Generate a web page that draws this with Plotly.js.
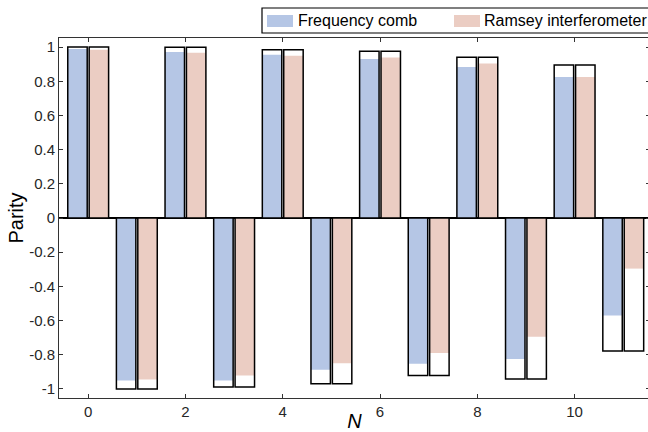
<!DOCTYPE html>
<html>
<head>
<meta charset="utf-8">
<script src="https://cdn.plot.ly/plotly-3.0.1.min.js"></script>
<style>
html, body { margin: 0; padding: 0; overflow: hidden; background: #fff; }
#chart { width: 720px; height: 432px; }
</style>
</head>
<body>
<div id="chart"></div>
<script>
// N values
var N = [0, 1, 2, 3, 4, 5, 6, 7, 8, 9, 10, 11];
// Ideal (expected) parity shown as black outlined boxes
var ideal = [1.0, -1.0, 0.999, -0.988, 0.984, -0.969, 0.975, -0.922, 0.941, -0.942, 0.895, -0.778];
// Measured parity, frequency comb
var comb = [0.988, -0.951, 0.971, -0.951, 0.955, -0.888, 0.930, -0.852, 0.884, -0.825, 0.825, -0.571];
// Measured parity, Ramsey interferometer
var ramsey = [0.984, -0.945, 0.967, -0.922, 0.949, -0.850, 0.939, -0.790, 0.904, -0.694, 0.825, -0.296];
// Tick labels
var xTicks = [0, 2, 4, 6, 8, 10];
var yTickVals = [-1, -0.8, -0.6, -0.4, -0.2, 0, 0.2, 0.4, 0.6, 0.8, 1];
var yTickText = ['-1', '-0.8', '-0.6', '-0.4', '-0.2', '0', '0.2', '0.4', '0.6', '0.8', '1'];
var seriesNames = ['Frequency comb', 'Ramsey interferometer'];

var blue = '#b5c6e5';
var pink = '#ebcdc3';
var bw = 0.4;
var offB = -0.42, offP = 0.02;

var traces = [
  {type: 'bar', x: N, y: comb, name: seriesNames[0], width: bw, offset: offB,
   marker: {color: blue, line: {width: 0}}, showlegend: false, hoverinfo: 'skip'},
  {type: 'bar', x: N, y: ramsey, name: seriesNames[1], width: bw, offset: offP,
   marker: {color: pink, line: {width: 0}}, showlegend: false, hoverinfo: 'skip'},
  {type: 'bar', x: N, y: ideal, name: 'ideal comb', width: bw, offset: offB,
   marker: {color: 'rgba(0,0,0,0)', line: {color: '#000', width: 1.5}}, showlegend: false, hoverinfo: 'skip'},
  {type: 'bar', x: N, y: ideal, name: 'ideal ramsey', width: bw, offset: offP,
   marker: {color: 'rgba(0,0,0,0)', line: {color: '#000', width: 1.5}}, showlegend: false, hoverinfo: 'skip'}
];

// plot-area geometry in pixels (for the drawn legend)
var L = 59, R = 650, T = 38, B = 398;
function px(x) { return (x - L) / (R - L); }
function py(y) { return (B - y) / (B - T); }

var shapes = [
  {type: 'rect', xref: 'paper', yref: 'paper', x0: px(262), x1: px(715), y0: py(33), y1: py(8),
   line: {color: '#000', width: 1.2}, fillcolor: '#fff', layer: 'above'},
  {type: 'rect', xref: 'paper', yref: 'paper', x0: px(267), x1: px(293), y0: py(27), y1: py(15),
   line: {width: 0}, fillcolor: blue, layer: 'above'},
  {type: 'rect', xref: 'paper', yref: 'paper', x0: px(454), x1: px(480), y0: py(27), y1: py(15),
   line: {width: 0}, fillcolor: pink, layer: 'above'}
];
var annotations = [
  {xref: 'paper', yref: 'paper', x: px(296), y: py(21), xanchor: 'left', yanchor: 'middle',
   text: seriesNames[0], showarrow: false, font: {size: 16, color: '#000'}},
  {xref: 'paper', yref: 'paper', x: px(482), y: py(21), xanchor: 'left', yanchor: 'middle',
   text: seriesNames[1], showarrow: false, font: {size: 16, color: '#000'}}
];

var font = 'Liberation Sans, Arial, sans-serif';
var layout = {
  width: 720, height: 432,
  margin: {l: L, r: 720 - R, t: T, b: 432 - B, pad: 0},
  barmode: 'overlay',
  showlegend: false,
  paper_bgcolor: '#fff', plot_bgcolor: '#fff',
  font: {family: font, size: 15, color: '#262626'},
  xaxis: {
    range: [-0.6, 11.55], tickvals: xTicks, ticks: 'inside', ticklen: 4, tickwidth: 1,
    tickcolor: '#333', mirror: 'ticks', showline: true, linecolor: '#333', linewidth: 1,
    showgrid: false, zeroline: false, tickfont: {size: 15, color: '#262626'},
    title: {text: '<i>N</i>', font: {size: 20, color: '#000'}, standoff: 2}
  },
  yaxis: {
    range: [-1.053, 1.053], tickvals: yTickVals, ticktext: yTickText, ticks: 'inside', ticklen: 4,
    tickwidth: 1, tickcolor: '#333', mirror: 'ticks', showline: true, linecolor: '#333', linewidth: 1,
    showgrid: false, zeroline: true, zerolinecolor: '#000', zerolinewidth: 1.2,
    tickfont: {size: 15, color: '#262626'},
    title: {text: 'Parity', font: {size: 20, color: '#000'}, standoff: 0}
  },
  shapes: shapes,
  annotations: annotations
};

Plotly.newPlot('chart', traces, layout, {displayModeBar: false, staticPlot: true});
</script>
</body>
</html>
